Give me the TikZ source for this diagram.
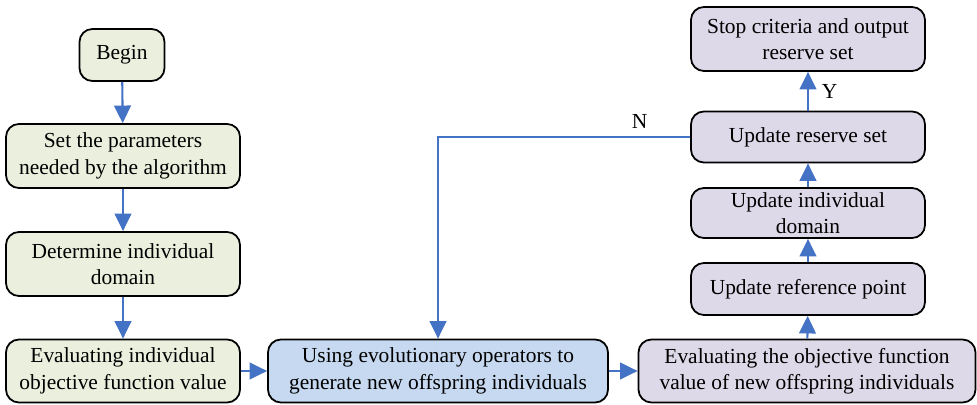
\documentclass[tikz,border=0pt]{standalone}
\usepackage{fontspec}
\setmainfont{Liberation Serif}
\usepackage{tikz}
\usetikzlibrary{positioning}
\usetikzlibrary{calc}
\usetikzlibrary{arrows.meta}
\definecolor{boxgreen}{RGB}{234,239,222}
\definecolor{boxblue}{RGB}{198,217,240}
\definecolor{boxpurple}{RGB}{221,217,232}
\definecolor{arrowblue}{RGB}{68,114,196}
\tikzset{every picture/.style={line width=1pt},
  stepbox/.style={draw,rounded corners=1.6ex,align=center,font=\fontsize{12.2}{15}\selectfont,inner sep=0pt},
  flow/.style={draw=arrowblue,line width=1.2pt,-{Triangle[length=10pt,width=9.5pt]}}}
\begin{document}
\begin{tikzpicture}
\useasboundingbox (0,0) rectangle (19.54,8.08);
\node (begin) at (2.44,6.98) [stepbox,fill=boxgreen,minimum width=1.7cm,minimum height=1.04cm] {Begin};
\node (param) at (2.46,4.96) [stepbox,fill=boxgreen,minimum width=4.68cm,minimum height=1.28cm] {Set the parameters\\needed by the algorithm};
\node (domain) at (2.46,2.8) [stepbox,fill=boxgreen,minimum width=4.68cm,minimum height=1.28cm] {Determine individual\\domain};
\node (evalind) at (2.46,0.66) [stepbox,fill=boxgreen,minimum width=4.68cm,minimum height=1.26cm] {Evaluating individual\\objective function value};
\node (oper) at (8.76,0.66) [stepbox,fill=boxblue,minimum width=6.8cm,minimum height=1.26cm] {Using evolutionary operators to\\generate new offspring individuals};
\node (evalobj) at (16.14,0.66) [stepbox,fill=boxpurple,minimum width=6.74cm,minimum height=1.26cm] {Evaluating the objective function\\value of new offspring individuals};
\node (refpt) at (16.16,2.3) [stepbox,fill=boxpurple,minimum width=4.68cm,minimum height=1.04cm] {Update reference point};
\node (inddom) at (16.16,3.82) [stepbox,fill=boxpurple,minimum width=4.68cm,minimum height=1.0cm] {Update individual\\domain};
\node (reserve) at (16.16,5.34) [stepbox,fill=boxpurple,minimum width=4.68cm,minimum height=1.02cm] {Update reserve set};
\node (stop) at (16.16,7.3) [stepbox,fill=boxpurple,minimum width=4.68cm,minimum height=1.28cm] {Stop criteria and output\\reserve set};
% left column
\draw[flow] (begin) -- (param);
\draw[flow] (param) -- (domain);
\draw[flow] (domain) -- (evalind);
% bottom row
\draw[flow] (evalind) -- (oper);
\draw[flow] (oper) -- (evalobj);
% right column
\draw[flow] (evalobj) -- (refpt);
\draw[flow] (refpt) -- (inddom);
\draw[flow] (inddom) -- (reserve);
\draw[flow] (reserve) -- node[right=4pt,font=\fontsize{12.2}{15}\selectfont] (yes) {Y} (stop);
\draw[flow] (reserve.west) -| node[pos=0.1,above=1pt,font=\fontsize{12.2}{15}\selectfont] (no) {N} (oper.north);
\end{tikzpicture}
\end{document}
